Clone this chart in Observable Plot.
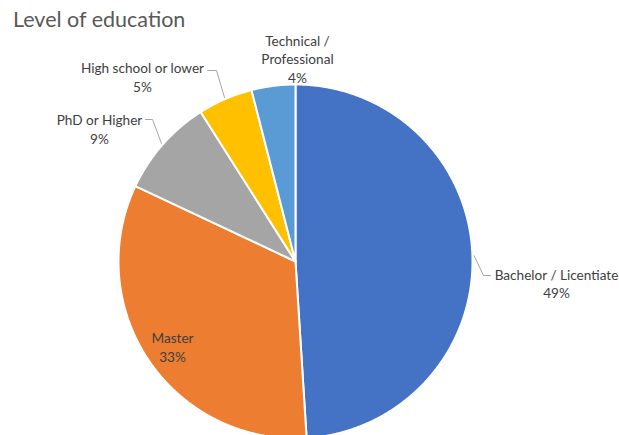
<!DOCTYPE html>
<html><head><meta charset="utf-8">
<script src="https://cdn.jsdelivr.net/npm/d3@7"></script>
<script src="https://cdn.jsdelivr.net/npm/@observablehq/plot@0.6"></script>
<style>
html,body{margin:0;padding:0;background:#fff;overflow:hidden;}
#title{box-sizing:border-box;height:28px;padding:7px 0 0 13px;font-family:Lato,"Open Sans",sans-serif;font-size:21.5px;line-height:24px;color:#595959;white-space:nowrap;}
#chart svg{display:block;}
</style></head><body>
<div id="title">Level of education</div>
<div id="chart"></div>
<script>
// ---- data ----
const categories = ["Bachelor / Licentiate", "Master", "PhD or Higher", "High school or lower", "Technical / Professional"];
const displayNames = ["Bachelor / Licentiate", "Master", "PhD or Higher", "High school or lower", "Technical /\nProfessional"];
const values = [49, 33, 9, 5, 4]; // percent
const colors = ["#4472C4", "#ED7D31", "#A5A5A5", "#FFC000", "#5B9BD5"];

// ---- layout (pixels) ----
const W = 619, H = 407, R = 177, CX = 295, CY = 233;
// label block centre offsets from pie centre (px, y down) and leader-line elbow/end
const labelLayout = {
  "Bachelor / Licentiate":    {t: [261, 21.5], leader: [[188, 14], [195, 14]]},
  "Master":                   {t: [-123, 85]},
  "PhD or Higher":            {t: [-196, -133], leader: [[-143, -142], [-150, -142]]},
  "High school or lower":     {t: [-153, -185], leader: [[-79, -191], [-88, -191]]},
  "Technical / Professional": {t: [2, -203]}
};
const u = ([dx, dy]) => ({x: dx / R, y: -dy / R});

const pie = d3.pie().sort(null).value((d) => d.value).startAngle(0).endAngle(2 * Math.PI);
const rows = categories.map((c, i) => ({cat: c, name: displayNames[i], value: values[i]}));
const arcs = pie(rows);

// slice polygons
const slicePts = [];
for (const a of arcs) {
  slicePts.push({cat: a.data.cat, x: 0, y: 0});
  const n = Math.max(2, Math.ceil((a.endAngle - a.startAngle) / 0.005));
  for (let k = 0; k <= n; k++) {
    const t = a.startAngle + (a.endAngle - a.startAngle) * k / n;
    slicePts.push({cat: a.data.cat, x: Math.sin(t), y: Math.cos(t)});
  }
}

// labels
const labels = arcs.map((a) => {
  const p = u(labelLayout[a.data.cat].t);
  return {cat: a.data.cat, x: p.x, y: p.y, text: `${a.data.name}\n${a.data.value}%`};
});

// leader lines
const leaderPts = [];
for (const a of arcs) {
  const L = labelLayout[a.data.cat].leader;
  if (!L) continue;
  const m = (a.startAngle + a.endAngle) / 2;
  leaderPts.push({cat: a.data.cat, x: 1.01 * Math.sin(m), y: 1.01 * Math.cos(m)});
  for (const q of L) leaderPts.push({cat: a.data.cat, ...u(q)});
}

const chart = Plot.plot({
  width: W, height: H,
  margin: 0,
  style: {fontFamily: "Lato, 'Open Sans', sans-serif", background: "#fff"},
  x: {domain: [-CX / R, (W - CX) / R], range: [0, W], axis: null},
  y: {domain: [CY / R, -(H - CY) / R], range: [0, H], axis: null},
  color: {domain: categories, range: colors},
  marks: [
    Plot.line(slicePts, {x: "x", y: "y", z: "cat", fill: "cat", stroke: "#fff", strokeWidth: 2, curve: "linear-closed", strokeLinejoin: "round"}),
    Plot.line(leaderPts, {x: "x", y: "y", z: "cat", stroke: "#A6A6A6", strokeWidth: 1}),
    Plot.text(labels, {x: "x", y: "y", text: "text", fill: "#404040", fontSize: 13.6, lineHeight: 1.37, textAnchor: "middle", lineAnchor: "middle"})
  ]
});
document.getElementById("chart").appendChild(chart);
</script>
</body></html>
